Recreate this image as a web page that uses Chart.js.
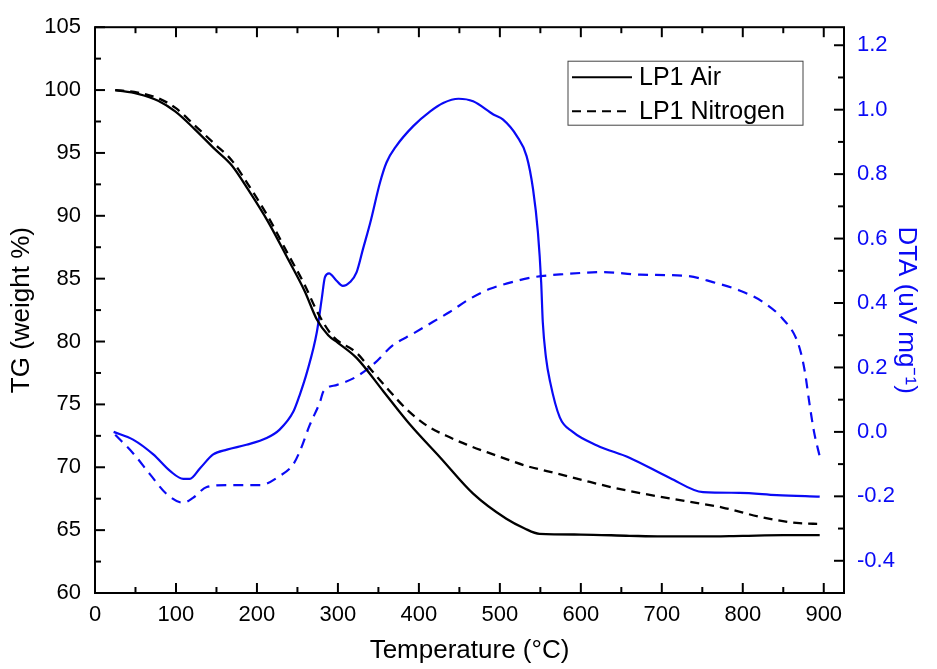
<!DOCTYPE html>
<html>
<head>
<meta charset="utf-8">
<title>TG / DTA</title>
<script src="https://cdn.jsdelivr.net/npm/chart.js@4.4.1/dist/chart.umd.min.js"></script>
<style>
  html, body { margin: 0; padding: 0; background: #fff; }
  canvas { display: block; }
</style>
</head>
<body>
<canvas id="chart" width="937" height="669"></canvas>
<script>
const xTicks = [0, 100, 200, 300, 400, 500, 600, 700, 800, 900];
const tgTicks = [60, 65, 70, 75, 80, 85, 90, 95, 100, 105];
const dtaTicks = [-0.4, -0.2, 0.0, 0.2, 0.4, 0.6, 0.8, 1.0, 1.2];

// TG, LP1 in air
const airTgTemp = [25, 53, 78, 99, 123, 148, 169, 189, 214, 238, 259, 274, 288, 300, 323, 356, 389, 426, 467, 508, 530, 549, 600, 660, 700, 750, 800, 850, 895];
const airTg = [100.0, 99.7, 99.15, 98.3, 96.9, 95.3, 94.0, 92.1, 89.5, 86.6, 84.0, 81.75, 80.5, 79.9, 78.7, 76.05, 73.4, 70.8, 67.9, 65.9, 65.15, 64.7, 64.65, 64.55, 64.5, 64.5, 64.55, 64.6, 64.6];

// TG, LP1 in nitrogen
const n2TgTemp = [25, 53, 78, 99, 123, 148, 169, 189, 214, 238, 259, 275, 294, 323, 343, 364, 385, 410, 434, 459, 484, 508, 533, 558, 583, 607, 632, 657, 677, 726, 775, 825, 870, 895];
const n2Tg = [100.0, 99.8, 99.35, 98.6, 97.2, 95.7, 94.4, 92.5, 89.9, 87.0, 84.5, 82.3, 80.4, 79.1, 77.6, 76.05, 74.6, 73.3, 72.5, 71.8, 71.2, 70.65, 70.1, 69.7, 69.3, 68.9, 68.5, 68.15, 67.9, 67.35, 66.8, 66.0, 65.55, 65.5];

// DTA, LP1 in air
const airDtaTemp = [23, 47, 72, 93, 109, 117, 130, 146, 163, 187, 212, 228, 245, 253, 262, 274, 280, 284, 289, 298, 306, 315, 323, 331, 340, 352, 360, 372, 393, 414, 430, 449, 467, 492, 504, 521, 533, 541, 547, 551, 553, 557, 562, 574, 590, 620, 660, 710, 751, 796, 842, 895];
const airDta = [0.0, -0.024, -0.07, -0.122, -0.146, -0.146, -0.112, -0.07, -0.055, -0.04, -0.019, 0.007, 0.063, 0.116, 0.187, 0.31, 0.413, 0.48, 0.492, 0.47, 0.453, 0.465, 0.495, 0.568, 0.65, 0.774, 0.836, 0.887, 0.949, 0.995, 1.021, 1.034, 1.026, 0.985, 0.969, 0.918, 0.856, 0.753, 0.619, 0.465, 0.341, 0.23, 0.156, 0.045, 0.0, -0.042, -0.08, -0.143, -0.187, -0.189, -0.196, -0.201];

// DTA, LP1 in nitrogen
const n2DtaTemp = [25, 47, 68, 89, 109, 121, 138, 163, 204, 228, 245, 253, 265, 278, 282, 299, 319, 343, 368, 393, 417, 438, 463, 488, 508, 541, 582, 627, 673, 731, 763, 796, 825, 849, 866, 872, 877, 882, 888, 895];
const n2Dta = [-0.009, -0.066, -0.132, -0.194, -0.22, -0.205, -0.171, -0.165, -0.165, -0.137, -0.1, -0.06, 0.02, 0.094, 0.125, 0.146, 0.166, 0.208, 0.269, 0.305, 0.341, 0.372, 0.413, 0.444, 0.46, 0.48, 0.49, 0.496, 0.488, 0.484, 0.465, 0.439, 0.403, 0.352, 0.29, 0.243, 0.182, 0.094, 0.0, -0.076];

const BLUE = 'rgb(10, 10, 245)';
const FONT = 'Liberation Sans, Arial, Helvetica, sans-serif';

function pairs(xs, ys) {
  return xs.map((x, i) => ({ x: x, y: ys[i] }));
}

function setTicks(values) {
  return scale => { scale.ticks = values.map(v => ({ value: v })); };
}

// frame + inward major/minor ticks on all four sides
const frameTicks = {
  id: 'frameTicks',
  afterDatasetsDraw(chart) {
    const { ctx, chartArea: a, scales } = chart;
    ctx.save();
    ctx.strokeStyle = '#000';
    ctx.lineWidth = 2;
    const mark = (x1, y1, x2, y2) => {
      ctx.beginPath(); ctx.moveTo(x1, y1); ctx.lineTo(x2, y2); ctx.stroke();
    };
    xTicks.forEach((v, i) => {
      const p = scales.x.getPixelForValue(v);
      mark(p, a.bottom, p, a.bottom - 10);
      mark(p, a.top, p, a.top + 10);
      if (i < xTicks.length - 1) {
        const m = scales.x.getPixelForValue((v + xTicks[i + 1]) / 2);
        mark(m, a.bottom, m, a.bottom - 6);
        mark(m, a.top, m, a.top + 6);
      }
    });
    tgTicks.forEach((v, i) => {
      const p = scales.y.getPixelForValue(v);
      mark(a.left, p, a.left + 10, p);
      if (i < tgTicks.length - 1) {
        const m = scales.y.getPixelForValue((v + tgTicks[i + 1]) / 2);
        mark(a.left, m, a.left + 6, m);
      }
    });
    dtaTicks.forEach((v, i) => {
      const p = scales.y2.getPixelForValue(v);
      mark(a.right, p, a.right - 10, p);
      if (i < dtaTicks.length - 1) {
        const m = scales.y2.getPixelForValue((v + dtaTicks[i + 1]) / 2);
        mark(a.right, m, a.right - 6, m);
      }
    });
    ctx.strokeRect(a.left, a.top, a.right - a.left, a.bottom - a.top);
    ctx.restore();
  }
};

// boxed legend for the two TG curves, top right inside the plot
const boxLegend = {
  id: 'boxLegend',
  afterDraw(chart) {
    const { ctx, chartArea: a } = chart;
    const left = a.right - 276, top = a.top + 34;
    ctx.save();
    ctx.strokeStyle = '#444';
    ctx.lineWidth = 1;
    ctx.strokeRect(left, top, 235, 64);
    ctx.font = '25px ' + FONT;
    ctx.textBaseline = 'middle';
    ctx.fillStyle = '#000';
    [0, 1].forEach(i => {
      const ds = chart.data.datasets[i];
      const y = top + 16 + i * 34;
      ctx.strokeStyle = '#000';
      ctx.lineWidth = 2;
      ctx.setLineDash(ds.borderDash || []);
      ctx.beginPath(); ctx.moveTo(left + 4, y); ctx.lineTo(left + 64, y); ctx.stroke();
      ctx.setLineDash([]);
      ctx.fillText(ds.label, left + 71, y + 1);
    });
    ctx.restore();
  }
};

const tickFont = { family: FONT, size: 22 };
const titleFont = { family: FONT, size: 26 };

new Chart(document.getElementById('chart').getContext('2d'), {
  type: 'line',
  data: {
    datasets: [
      {
        label: 'LP1 Air', data: pairs(airTgTemp, airTg), yAxisID: 'y',
        borderColor: '#000', borderWidth: 2.3
      },
      {
        label: 'LP1 Nitrogen', data: pairs(n2TgTemp, n2Tg), yAxisID: 'y',
        borderColor: '#000', borderWidth: 2.3, borderDash: [9, 6]
      },
      {
        label: 'DTA Air', data: pairs(airDtaTemp, airDta), yAxisID: 'y2',
        borderColor: BLUE, borderWidth: 2.2
      },
      {
        label: 'DTA Nitrogen', data: pairs(n2DtaTemp, n2Dta), yAxisID: 'y2',
        borderColor: BLUE, borderWidth: 2.2, borderDash: [10, 7]
      }
    ]
  },
  options: {
    responsive: false,
    animation: false,
    events: [],
    layout: { padding: { top: 22, left: 0, right: 0, bottom: 0 } },
    elements: {
      point: { radius: 0 },
      line: { cubicInterpolationMode: 'monotone', fill: false }
    },
    plugins: { legend: { display: false }, tooltip: { enabled: false } },
    scales: {
      x: {
        type: 'linear', min: 0, max: 925,
        afterBuildTicks: setTicks(xTicks),
        afterFit: s => { s.height = 76; },
        grid: { display: false, drawTicks: false },
        border: { display: false },
        ticks: { font: tickFont, color: '#000', padding: 9, maxRotation: 0, autoSkip: false },
        title: { display: true, text: 'Temperature (°C)', font: titleFont, color: '#000', padding: 3 }
      },
      y: {
        type: 'linear', position: 'left', min: 60, max: 105,
        afterBuildTicks: setTicks(tgTicks),
        afterFit: s => { s.width = 95; },
        grid: { display: false, drawTicks: false },
        border: { display: false },
        ticks: { font: tickFont, color: '#000', padding: 14 },
        title: { display: true, text: 'TG (weight %)', font: titleFont, color: '#000', padding: 6 }
      },
      y2: {
        type: 'linear', position: 'right', min: -0.5, max: 1.256,
        afterBuildTicks: setTicks(dtaTicks),
        afterFit: s => { s.width = 93; },
        grid: { display: false, drawTicks: false },
        border: { display: false },
        ticks: { font: tickFont, color: BLUE, padding: 13, callback: v => v.toFixed(1) },
        title: { display: true, text: 'DTA (uV mg⁻¹)', font: titleFont, color: BLUE, padding: 15 }
      }
    }
  },
  plugins: [frameTicks, boxLegend]
});
</script>
</body>
</html>
